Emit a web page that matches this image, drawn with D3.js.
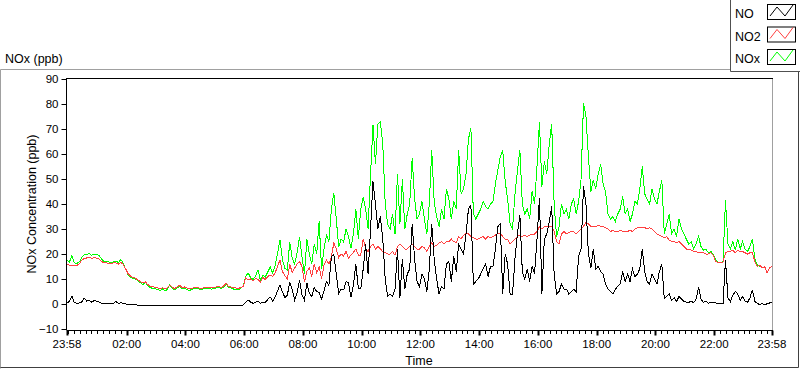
<!DOCTYPE html>
<head>
  <meta charset="utf-8">
  <script src="https://d3js.org/d3.v7.min.js"></script>
  <style>
    body { margin:0; background:#fff; }
    text { font-family: "Liberation Sans", Arial, sans-serif; fill:#000; }
    .tick text { font-size: 11.5px; }
  </style>
</head>

<body>
  <script>
    var W = 800, H = 369;
    // plot box
    var pLeft = 67, pRight = 772, pTop = 79, pBottom = 329;

    // one sample every 5 minutes, starting 23:58, one row per hour
    var noVals = [
      0.5,1.0,3.2,0.6,0.3,0.4,0.8,2.4,1.2,1.5,0.8,1.3,
      1.2,0.9,0.3,0.2,0.4,0.1,0.0,0.3,1.0,0.2,0.6,0.1,
      0.0,-0.2,-0.3,-0.4,-0.3,-0.5,-0.5,-0.4,-0.6,-0.5,-0.6,-0.6,
      -0.6,-0.6,-0.7,-0.6,-0.7,-0.6,-0.4,-0.6,-0.7,-0.6,-0.5,-0.6,
      -0.6,-0.6,-0.7,-0.7,-0.6,-0.6,-0.7,-0.7,-0.6,-0.6,-0.6,-0.7,
      -0.6,-0.6,-0.5,-0.6,-0.6,-0.5,-0.6,-0.6,-0.7,-0.6,-0.6,-0.6,
      -0.4,0.6,1.6,0.8,0.3,0.6,1.2,0.2,0.8,0.6,1.8,2.8,
      1.2,2.8,5.2,7.6,4.8,2.6,3.5,8.8,5.6,1.6,4.4,9.6,
      3.5,1.5,8.5,4.2,3.0,6.5,5.0,4.5,2.0,5.2,9.0,7.5,
      19.0,20.0,12.0,4.2,6.0,5.6,9.0,8.4,2.8,7.4,16.0,6.4,
      6,14,24,12,30,49,40,30,35,26,10,3,
      4,3,6,22,2.5,18,6,12,14,32,18,9,
      7,12,10,5,14,32,18,10,4,7,6,16,
      17,9,19,13,24,22,20,28,38,39.6,8,9,
      10,12,14,16,11,15,15,22,31,32,4,20,
      16,4,4,18,28,35.6,13,10,14,9,15,12,
      26,42.4,4,26,28,33,39,12,4,5,8,6,
      6,4,5,6,5,19,22,47,40,20,14.4,22,
      14,15,13,12,8,6,5,4,6,7,8,13,
      9,12,9,14,11,12,14,22,13,9,8,12,
      10,8,13,16,2,3,4,1.5,2.5,1,3,2,
      1,0.8,0.6,1.2,0.5,2,6.8,2,0.6,1.2,0.2,0.8,
      0.8,0.4,0.2,0.1,0.3,17.6,2.5,1,3.5,5,4,1.5,
      3,1.2,0.6,2.5,5.7,1,0.2,-0.2,0.2,-0.3,0.1,0.4,
      0.8
    ];

    var no2Vals = [
      15.8,15.5,15.2,15.6,15.4,16.0,17.5,18.2,18.4,18.6,18.3,18.5,
      18.4,18.0,17.2,16.4,16.5,16.3,16.2,16.5,16.4,16.0,16.6,15.8,
      14.0,12.0,11.2,10.6,10.3,9.6,9.0,8.4,8.8,7.8,7.2,7.0,
      6.6,6.4,6.2,6.5,6.0,6.4,7.6,6.6,6.2,6.8,7.5,6.6,
      6.8,6.4,6.1,6.3,6.5,6.8,6.4,6.2,6.6,6.5,6.8,6.4,
      6.6,6.8,7.0,6.6,7.2,8.4,7.0,6.8,6.6,6.4,6.2,6.6,
      7.0,10.4,9.6,10.0,9.2,10.2,9.8,8.8,10.6,9.8,11.0,11.6,
      11.0,12.4,15.0,17.6,13.0,11.4,10.0,15.8,12.6,14.4,16.0,17.0,
      15.0,8.8,13.0,14.5,11.0,16.0,12.5,14.8,10.2,15.5,17.6,16.0,
      19.0,24.4,22.0,18.6,20.0,19.2,21.0,18.4,19.6,20.6,22.0,19.6,
      19.6,26,22,21,23,24,22,23,22,21,20.5,20,
      20,21,19.5,23,24,23,22,22,23,24,23,22,
      22,23,22.5,21,23,24.4,23,23.5,24.4,25,24,25,
      25,26,25,24.5,27,26,27.5,28.4,28,27,26.5,26,
      26,26.5,27,26,27,26.5,27,27.5,28.4,28.4,27,26,
      26,24,25,26,27,27.5,27,27.5,27,27.5,28,28,
      29,31,30,31,31,31,31,29,25,24,28,29,
      28,28.5,29,29,28,29,30,31,32.8,32,31,31,
      31,31.5,31,31,30.5,30,29,29.5,29,29,29.5,29,
      29,29,29.5,29,30,30.5,30.6,30.6,30.6,30,30.5,30,
      29,28,27.5,27,26.5,27,25.5,25,25,24.5,25,24,
      23,22,22,21.5,21,21,20.5,20.5,20.5,20,20,20.5,
      19.5,17,16.5,16.5,16.8,20.4,21,21,21.5,20.5,21.5,21,
      21,20.5,20,20.5,20.5,17,15,15.5,14.5,15,12.4,14.5,
      15
    ];

    var noxVals = [
      17.5,16.8,19.5,16.5,16.2,16.8,18.5,19.8,19.6,20.2,19.5,19.8,
      20.0,19.5,18.2,17.0,16.8,16.9,16.5,16.8,17.2,16.5,17.8,16.3,
      13.8,11.6,10.8,10.2,10.0,9.2,8.5,7.8,8.6,7.4,6.6,6.2,
      6.2,5.8,5.4,6.0,5.2,5.8,7.8,6.2,5.6,6.4,7.2,6.2,
      6.4,5.8,5.4,5.8,6.2,6.4,5.9,5.8,6.2,6.0,6.4,5.9,
      6.2,6.4,6.8,6.2,6.8,8.0,6.6,6.4,6.0,5.8,5.6,6.2,
      7.2,11.0,12.4,10.6,9.8,11.2,13.6,9.6,11.6,10.8,12.8,14.8,
      12.4,15.2,20.0,25.6,17.8,14.2,13.6,24.8,18.2,16.0,20.4,26.8,
      19.0,12.0,26.0,20.0,16.0,24.0,20.0,33.0,14.0,22.0,27.6,25.0,
      38.0,44.4,34.0,22.8,26.0,24.8,30.0,26.8,22.4,28.0,38.0,26.0,
      38,42.8,38,30,52,71.6,56,72,73,64,40,32,
      30,36,28,52,32,50,30,36,40,58.4,42,34,
      36,41,34,28,40,61.6,41,35,31,38,34,46,
      42,34,41,38,61.6,44,46,52,66,70.4,36,34,
      36,38,41,39,38,40,41,48,53.6,58.8,61.6,49,
      42,32,30,44,53,61.6,40,36,38,34,45,40,
      55,72.8,47,57,52,64,72,40,27,31,40,36,
      38,34,40,42,36,41,50,80.4,75,59,45,49.6,
      46,52,56,48,45,36,34,35,33,36,38,43,
      36,38,33,36,41,40,46,55,44,42,40,46,
      42,40,45,49.6,28,32,36,28,30,27,34,30,
      28,26,24,25,22,24,27,23,21.5,22,20.5,21,
      20,17.5,16.8,16.5,17,41.6,24,22,25,21.5,26,22,
      25,22,21,23,26,18,15.5,15,14.5,15,12.5,14.5,
      15
    ];

    var yTicks = [-10, 0, 10, 20, 30, 40, 50, 60, 70, 80, 90];
    var seriesNames = ["NO", "NO2", "NOx"];
    var seriesColors = ["#000000", "#ff4040", "#00ff00"];

    var t0 = new Date(2020, 0, 1, 23, 58);
    var t1 = new Date(2020, 0, 2, 23, 58);
    var stepMin = 5;
    function timeAt(i) { return new Date(t0.getTime() + i * stepMin * 60000); }

    var x = d3.scaleTime().domain([t0, t1]).range([pLeft, pRight]);
    var y = d3.scaleLinear().domain([-10, 90]).range([pBottom, pTop]);

    var svg = d3.select("body").append("svg")
      .attr("width", W)
      .attr("height", H);

    // outer panel frame
    svg.append("path").attr("d", "M0.5,368.5 V69.5 H799.5").attr("fill", "none").attr("stroke", "#a0a0a0");
    svg.append("path").attr("d", "M0.5,367.5 H798.5 V69.5").attr("fill", "none").attr("stroke", "#404040");

    svg.append("text").attr("x", 5).attr("y", 63).style("font-size", "12.5px").text("NOx (ppb)");

    // plot frame
    svg.append("line").attr("x1", pRight + 0.5).attr("x2", pRight + 0.5).attr("y1", pTop).attr("y2", pBottom + 1)
      .attr("stroke", "#a0a0a0");
    svg.append("line").attr("x1", pLeft).attr("x2", pRight + 1).attr("y1", pTop - 0.5).attr("y2", pTop - 0.5)
      .attr("stroke", "#000");

    // y axis
    var yAxis = svg.append("g")
      .attr("transform", "translate(" + (pLeft - 0.5) + ",0)")
      .call(d3.axisLeft(y).tickValues(yTicks).tickSize(5).tickPadding(3).tickFormat(d3.format("d")));
    yAxis.select(".domain").attr("d", "M0," + (pTop - 1) + "V" + (pBottom + 1.5));
    yAxis.selectAll(".tick line").attr("stroke", "#000");

    // x axis: major every 2 h (plus ends), minor every 12 min
    var majors = [t0].concat(d3.timeHour.every(2).range(new Date(2020, 0, 2, 1), t1)).concat([t1]);
    var minors = d3.timeMinute.every(12).range(t0, t1).filter(function(d) { return d > t0; });

    var xg = svg.append("g").attr("transform", "translate(0," + (pBottom + 1.5) + ")");
    xg.append("line").attr("x1", pLeft).attr("x2", pRight + 1).attr("stroke", "#000");
    xg.selectAll("line.minor").data(minors).enter().append("line")
      .attr("class", "minor")
      .attr("x1", function(d) { return Math.round(x(d)) + 0.5; })
      .attr("x2", function(d) { return Math.round(x(d)) + 0.5; })
      .attr("y1", 0).attr("y2", 3.5).attr("stroke", "#000");
    xg.selectAll("line.major").data(majors).enter().append("line")
      .attr("class", "major")
      .attr("x1", function(d) { return Math.round(x(d)) + 0.5; })
      .attr("x2", function(d) { return Math.round(x(d)) + 0.5; })
      .attr("y1", 0).attr("y2", 5).attr("stroke", "#000").attr("stroke-width", 2);
    xg.selectAll("text").data(majors).enter().append("text")
      .attr("x", function(d) { return x(d); })
      .attr("y", 17)
      .attr("text-anchor", "middle")
      .style("font-size", "11.5px")
      .text(d3.timeFormat("%H:%M"));

    svg.append("text").attr("x", 419).attr("y", 365).attr("text-anchor", "middle")
      .style("font-size", "12.5px").text("Time");
    svg.append("text")
      .attr("transform", "translate(36," + ((pTop + pBottom) / 2) + ") rotate(-90)")
      .attr("text-anchor", "middle")
      .style("font-size", "12.5px")
      .text("NOx Concentration (ppb)");

    // series
    var line = d3.line()
      .x(function(d, i) { return x(timeAt(i)); })
      .y(function(d) { return y(d); });

    var plot = svg.append("g");
    [[noxVals, 2], [no2Vals, 1], [noVals, 0]].forEach(function(s) {
      plot.append("path")
        .attr("d", line(s[0]))
        .attr("fill", "none")
        .attr("stroke", seriesColors[s[1]])
        .attr("stroke-width", 1)
        .attr("shape-rendering", "crispEdges");
    });

    // legend
    var lg = svg.append("g");
    lg.append("rect").attr("x", 731).attr("y", 0).attr("width", 69).attr("height", 72).attr("fill", "#fff");
    lg.append("path").attr("d", "M730.5,0 V71.5 H800").attr("fill", "none").attr("stroke", "#505050");
    var sw = [0, 1, 2];
    var rows = lg.selectAll("g.row").data(sw).enter().append("g")
      .attr("transform", function(d) { return "translate(0," + (d * 22.5) + ")"; });
    rows.append("text").attr("x", 735).attr("y", 18).style("font-size", "12.5px")
      .text(function(d) { return seriesNames[d]; });
    rows.append("rect").attr("x", 767.5).attr("y", 4.5).attr("width", 28).attr("height", 15)
      .attr("fill", "#fff").attr("stroke", "#000");
    rows.append("polyline")
      .attr("points", "770,16 777,7 785,16 793,5")
      .attr("fill", "none")
      .attr("stroke", function(d) { return seriesColors[d]; });
  </script>
</body>
